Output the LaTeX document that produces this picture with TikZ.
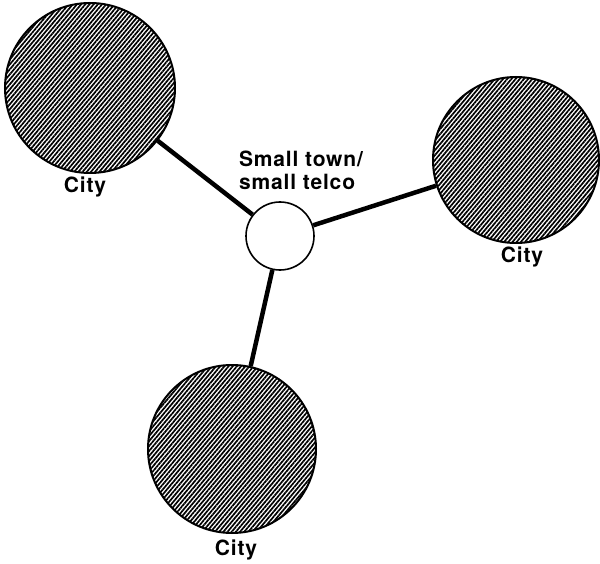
\documentclass[tikz,border=0pt]{standalone}
\usepackage{fontspec}
\setmainfont{TeX Gyre Heros}[LetterSpace=4]
\usetikzlibrary{patterns.meta}
\begin{document}
\begin{tikzpicture}[x=1pt,y=-1pt,
  city/.style={circle,draw=black,line width=2pt,inner sep=0pt,minimum size=#1,
    pattern={Lines[angle=50,distance=3.2pt,line width=1.7pt]},pattern color=black},
  town/.style={circle,draw=black,line width=1.6pt,fill=white,inner sep=0pt,minimum size=68pt},
  link/.style={line width=4.5pt},
  lbl/.style={font=\fontsize{21}{23}\selectfont\bfseries,inner sep=0pt}]
\useasboundingbox (0,0) rectangle (600,564);
\node[city=170pt] (c1) at (90,88) {};
\node[city=166pt] (c2) at (516,160) {};
\node[city=168pt] (c3) at (232,449) {};
\node[town] (t) at (280,236) {};
\draw[link] (c1) -- (t);
\draw[link] (t) -- (c2);
\draw[link] (t) -- (c3);
\node[lbl] (l1) at (85,187) {City};
\node[lbl] (l2) at (522,257) {City};
\node[lbl] (l3) at (236,550) {City};
\node[lbl,align=left] (lt) at (301,170) {Small town/\\small telco};
\end{tikzpicture}
\end{document}
